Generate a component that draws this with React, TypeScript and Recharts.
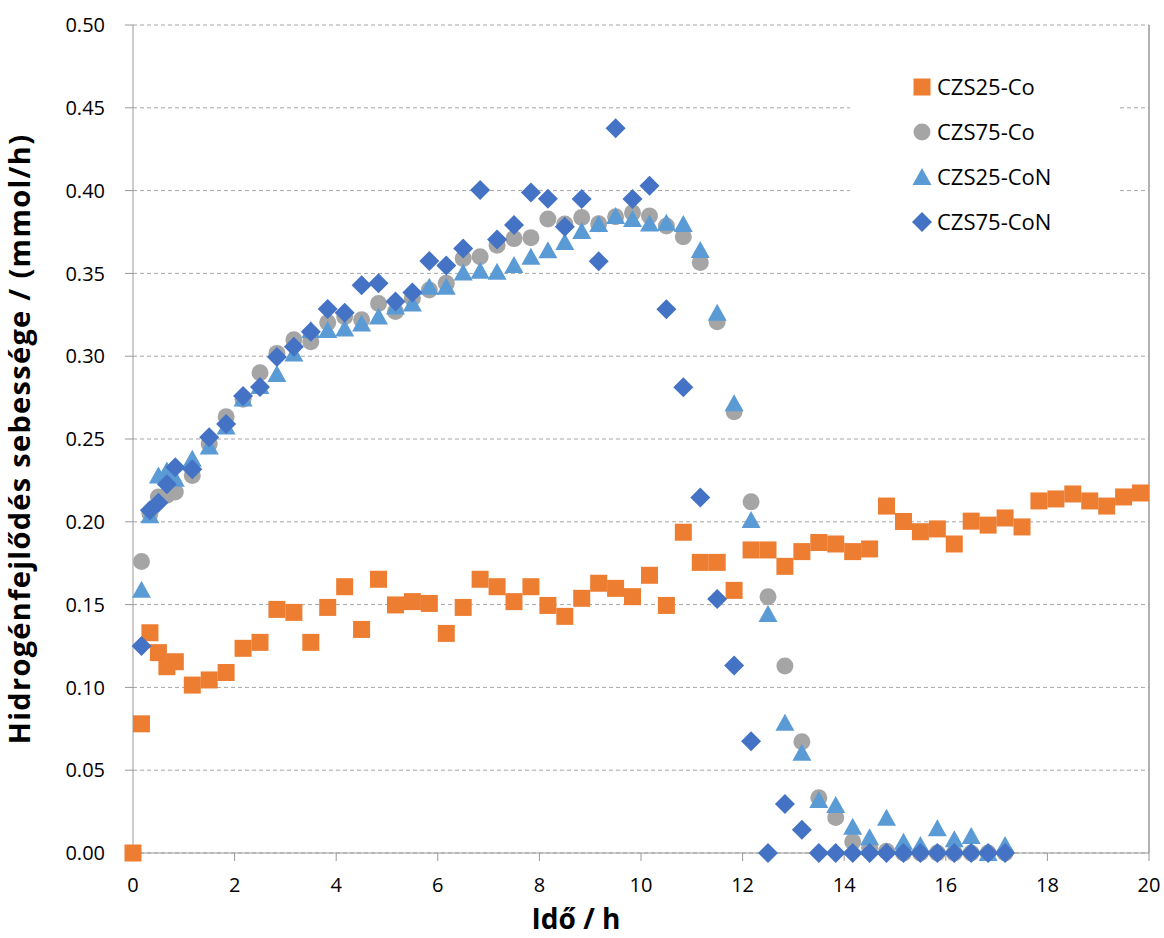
import React from 'react';
import { ScatterChart, Scatter, XAxis, YAxis, CartesianGrid, Legend, ReferenceLine, Label } from 'recharts';

// Time points (h)
const TIMES = [
  0, 0.167, 0.333, 0.5, 0.667, 0.833,
  1.167, 1.5, 1.833, 2.167, 2.5, 2.833, 3.167, 3.5, 3.833, 4.167, 4.5, 4.833,
  5.167, 5.5, 5.833, 6.167, 6.5, 6.833, 7.167, 7.5, 7.833, 8.167, 8.5, 8.833,
  9.167, 9.5, 9.833, 10.167, 10.5, 10.833, 11.167, 11.5, 11.833, 12.167, 12.5, 12.833,
  13.167, 13.5, 13.833, 14.167, 14.5, 14.833, 15.167, 15.5, 15.833, 16.167, 16.5, 16.833,
  17.167, 17.5, 17.833, 18.167, 18.5, 18.833, 19.167, 19.5, 19.833,
];

// CZS25-Co (orange squares)
const CZS25_CO = [
  0.0, 0.078, 0.133, 0.121, 0.1125, 0.1155,
  0.1014, 0.1045, 0.109, 0.1236, 0.1272, 0.1471, 0.1453, 0.1272, 0.1483, 0.1608, 0.135, 0.1653,
  0.1498, 0.1518, 0.1507, 0.1326, 0.1483, 0.1653, 0.1608, 0.1518, 0.1608, 0.1495, 0.1429, 0.1538,
  0.1629, 0.1598, 0.1548, 0.1677, 0.1495, 0.1937, 0.1755, 0.1755, 0.1586, 0.183, 0.183, 0.1731,
  0.182, 0.1875, 0.1866, 0.182, 0.1836, 0.2095, 0.2002, 0.194, 0.1957, 0.1866, 0.2004, 0.198,
  0.2023, 0.1969, 0.2126, 0.2138, 0.2168, 0.2126, 0.2095, 0.215, 0.2174,
];

// CZS75-Co (gray circles)
const CZS75_CO = [
  null, 0.176, 0.205, 0.215, 0.216, 0.218,
  0.228, 0.247, 0.2635, 0.274, 0.29, 0.3017, 0.31, 0.3088, 0.3203, 0.3239, 0.322, 0.3318,
  0.327, 0.335, 0.34, 0.344, 0.359, 0.36, 0.367, 0.371, 0.3716, 0.3828, 0.3798, 0.3838,
  0.38, 0.3842, 0.3866, 0.3847, 0.3786, 0.3722, 0.3566, 0.3208, 0.2665, 0.2121, 0.1548, 0.1129,
  0.0672, 0.0334, 0.0215, 0.0068, 0.003, 0.001, 0.0, 0.0, 0.0, 0.0, 0.0, 0.0,
  0.0,
];

// CZS25-CoN (light blue triangles)
const CZS25_CON = [
  null, 0.159, 0.204, 0.228, 0.231, 0.226,
  0.238, 0.2454, 0.2575, 0.2745, 0.282, 0.2892, 0.3017, 0.3158, 0.3158, 0.3168, 0.3198, 0.3239,
  0.33, 0.3318, 0.342, 0.342, 0.3505, 0.3516, 0.351, 0.355, 0.36, 0.364, 0.369, 0.3756,
  0.3798, 0.3846, 0.3829, 0.3802, 0.3806, 0.3798, 0.3641, 0.3263, 0.2716, 0.2011, 0.1443, 0.0787,
  0.0606, 0.032, 0.029, 0.0159, 0.0095, 0.0213, 0.0068, 0.0048, 0.0149, 0.0083, 0.0103, 0.0,
  0.0048,
];

// CZS75-CoN (dark blue diamonds)
const CZS75_CON = [
  null, 0.125, 0.207, 0.2115, 0.2226, 0.233,
  0.2317, 0.251, 0.259, 0.276, 0.2814, 0.2995, 0.3057, 0.3148, 0.3285, 0.3263, 0.3428, 0.344,
  0.333, 0.3384, 0.3575, 0.3547, 0.365, 0.4004, 0.3705, 0.3792, 0.3989, 0.3951, 0.3782, 0.3949,
  0.3573, 0.4376, 0.3949, 0.403, 0.3283, 0.2812, 0.2146, 0.1534, 0.1132, 0.0675, 0.0, 0.0296,
  0.014, 0.0, 0.0, 0.0, 0.0, 0.0, 0.0, 0.0, 0.0, 0.0, 0.0, 0.0,
  0.0,
];

const X_TICKS = [0, 2, 4, 6, 8, 10, 12, 14, 16, 18, 20];
const Y_TICKS = [0, 0.05, 0.1, 0.15, 0.2, 0.25, 0.3, 0.35, 0.4, 0.45, 0.5];

const SERIES = [
  { name: 'CZS25-Co', values: CZS25_CO, color: '#ED7D31', kind: 'square' },
  { name: 'CZS75-Co', values: CZS75_CO, color: '#A5A5A5', kind: 'circle' },
  { name: 'CZS25-CoN', values: CZS25_CON, color: '#5B9BD5', kind: 'triangle' },
  { name: 'CZS75-CoN', values: CZS75_CON, color: '#4472C4', kind: 'diamond' },
];

function toPoints(values: (number | null)[]) {
  const out: { x: number; y: number }[] = [];
  values.forEach((v, i) => {
    if (v !== null && v !== undefined) out.push({ x: TIMES[i], y: v });
  });
  return out;
}

function MarkerShape({ cx, cy, kind, color }: any) {
  if (cx == null || cy == null) return null;
  if (kind === 'square') return <rect x={cx - 8.5} y={cy - 8.5} width={17} height={17} fill={color} />;
  if (kind === 'circle') return <circle cx={cx} cy={cy} r={8.5} fill={color} />;
  if (kind === 'triangle')
    return <polygon points={`${cx},${cy - 9} ${cx + 9.5},${cy + 8} ${cx - 9.5},${cy + 8}`} fill={color} />;
  return <polygon points={`${cx},${cy - 10} ${cx + 10},${cy} ${cx},${cy + 10} ${cx - 10},${cy}`} fill={color} />;
}

function LegendBox() {
  return (
    <svg width={268} height={180} style={{ display: 'block', background: '#fff' }}>
      {SERIES.map((s, i) => {
        const cy = 25 + i * 45;
        return (
          <g key={s.name}>
            <MarkerShape cx={72} cy={cy} kind={s.kind} color={s.color} />
            <text x={87} y={cy} dy="0.36em" fontSize={22} fill="#000">{s.name}</text>
          </g>
        );
      })}
    </svg>
  );
}

export default function App() {
  return (
    <div style={{ position: 'absolute', left: 0, top: 0, fontFamily: '"Open Sans", sans-serif', background: '#fff' }}>
      <ScatterChart width={1164} height={938} margin={{ top: 25, right: 15, bottom: 0, left: 0 }}>
        <CartesianGrid vertical={false} stroke="#a6a6a6" strokeDasharray="4 3" />
        <XAxis
          type="number"
          dataKey="x"
          domain={[0, 20]}
          ticks={X_TICKS}
          height={85}
          stroke="#999"
          tickSize={8}
          tickMargin={17}
          tick={{ fontSize: 20, fill: '#000' }}
          allowDuplicatedCategory={false}
        >
          <Label
            value="Idő / h"
            position="insideBottom"
            offset={9}
            dx={-65}
            style={{ fontSize: 28, fontWeight: 'bold', fill: '#000' }}
          />
        </XAxis>
        <YAxis
          type="number"
          dataKey="y"
          domain={[0, 0.5]}
          ticks={Y_TICKS}
          width={133}
          stroke="#999"
          tickSize={8}
          tickMargin={20}
          tickFormatter={(v: number) => v.toFixed(2)}
          tick={{ fontSize: 20, fill: '#000' }}
        >
          <Label
            value="Hidrogénfejlődés sebessége / (mmol/h)"
            angle={-90}
            position="insideLeft"
            offset={20}
            style={{ fontSize: 29, fontWeight: 'bold', fill: '#000', textAnchor: 'middle', letterSpacing: 1.3 }}
          />
        </YAxis>
        <ReferenceLine x={20} stroke="#999" strokeWidth={1.5} />
        <Legend
          layout="horizontal"
          verticalAlign="middle"
          align="center"
          wrapperStyle={{ position: 'absolute', left: 850, top: 62, width: 268, height: 180 }}
          content={() => <LegendBox />}
        />
        {SERIES.map((s) => (
          <Scatter
            key={s.name}
            name={s.name}
            data={toPoints(s.values)}
            fill={s.color}
            isAnimationActive={false}
            shape={(p: any) => <MarkerShape cx={p.cx} cy={p.cy} kind={s.kind} color={s.color} />}
          />
        ))}
      </ScatterChart>
    </div>
  );
}
